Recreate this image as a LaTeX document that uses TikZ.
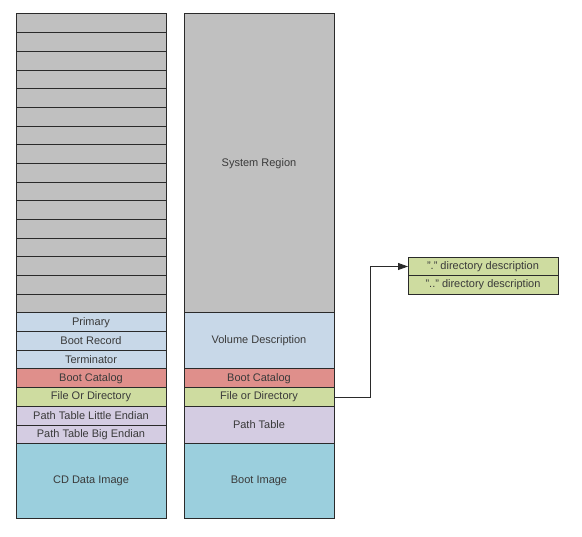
\documentclass[tikz,border=0pt]{standalone}
\usepackage{fontspec}
\setmainfont{Liberation Sans}
\usetikzlibrary{arrows.meta}
\definecolor{cgray}{HTML}{C0C0C0}
\definecolor{cblue}{HTML}{C8D8E8}
\definecolor{cred}{HTML}{DF8F8B}
\definecolor{cgreen}{HTML}{CEDCA0}
\definecolor{clav}{HTML}{D4CCE2}
\definecolor{ccyan}{HTML}{9BCFDD}
\definecolor{ctext}{HTML}{3A3A3A}
\definecolor{cline}{HTML}{2A2A2A}
\begin{document}
\begin{tikzpicture}[x=1pt,y=1pt,
  cell/.style={draw=cline, line width=1pt, rectangle, inner sep=0pt, outer sep=0pt,
    anchor=north west, minimum width=150pt, text=ctext, font=\fontsize{11}{13}\selectfont},
  gbox/.style={cell, fill=cgreen, minimum width=150pt, minimum height=18.4pt},
  link/.style={draw=cline, line width=0.8pt}]
\useasboundingbox (0,0) rectangle (582,-537);
\def\r{18.683}
% left column gray rows
\foreach \i in {0,...,15}{
  \node[cell, fill=cgray, minimum height=\r pt] (g\i) at (16,{-14-\i*\r}) {};
}
\node[cell, fill=cblue, minimum height=\r pt] (lprim) at (16,{-14-16*\r}) {Primary};
\node[cell, fill=cblue, minimum height=\r pt] (lboot) at (16,{-14-17*\r}) {Boot Record};
\node[cell, fill=cblue, minimum height=\r pt] (lterm) at (16,{-14-18*\r}) {Terminator};
\node[cell, fill=cred, minimum height=\r pt] (lcat) at (16,{-14-19*\r}) {Boot Catalog};
\node[cell, fill=cgreen, minimum height=\r pt] (lfile) at (16,{-14-20*\r}) {File Or Directory};
\node[cell, fill=clav, minimum height=\r pt] (lptle) at (16,{-14-21*\r}) {Path Table Little Endian};
\node[cell, fill=clav, minimum height=\r pt] (lptbe) at (16,{-14-22*\r}) {Path Table Big Endian};
\node[cell, fill=ccyan, minimum height=4*\r pt] (lcd) at (16,{-14-23*\r}) {CD Data Image};
% right column
\node[cell, fill=cgray, minimum height=16*\r pt] (rsys) at (184,-14) {System Region};
\node[cell, fill=cblue, minimum height=3*\r pt] (rvol) at (184,{-14-16*\r}) {Volume Description};
\node[cell, fill=cred, minimum height=\r pt] (rcat) at (184,{-14-19*\r}) {Boot Catalog};
\node[cell, fill=cgreen, minimum height=\r pt] (rfile) at (184,{-14-20*\r}) {File or Directory};
\node[cell, fill=clav, minimum height=2*\r pt] (rpt) at (184,{-14-21*\r}) {Path Table};
\node[cell, fill=ccyan, minimum height=4*\r pt] (rbi) at (184,{-14-23*\r}) {Boot Image};
% directory description boxes
\node[gbox] (dot) at (408,-257.3) {"." directory description};
\node[gbox] (dotdot) at (408,-275.7) {".." directory description};
% connector
\coordinate (bend) at (370,-397);
\draw[link, -{Triangle[length=10pt,width=7pt]}] (rfile.east) -- (rfile.east -| bend) |- (dot.west);
\end{tikzpicture}
\end{document}
